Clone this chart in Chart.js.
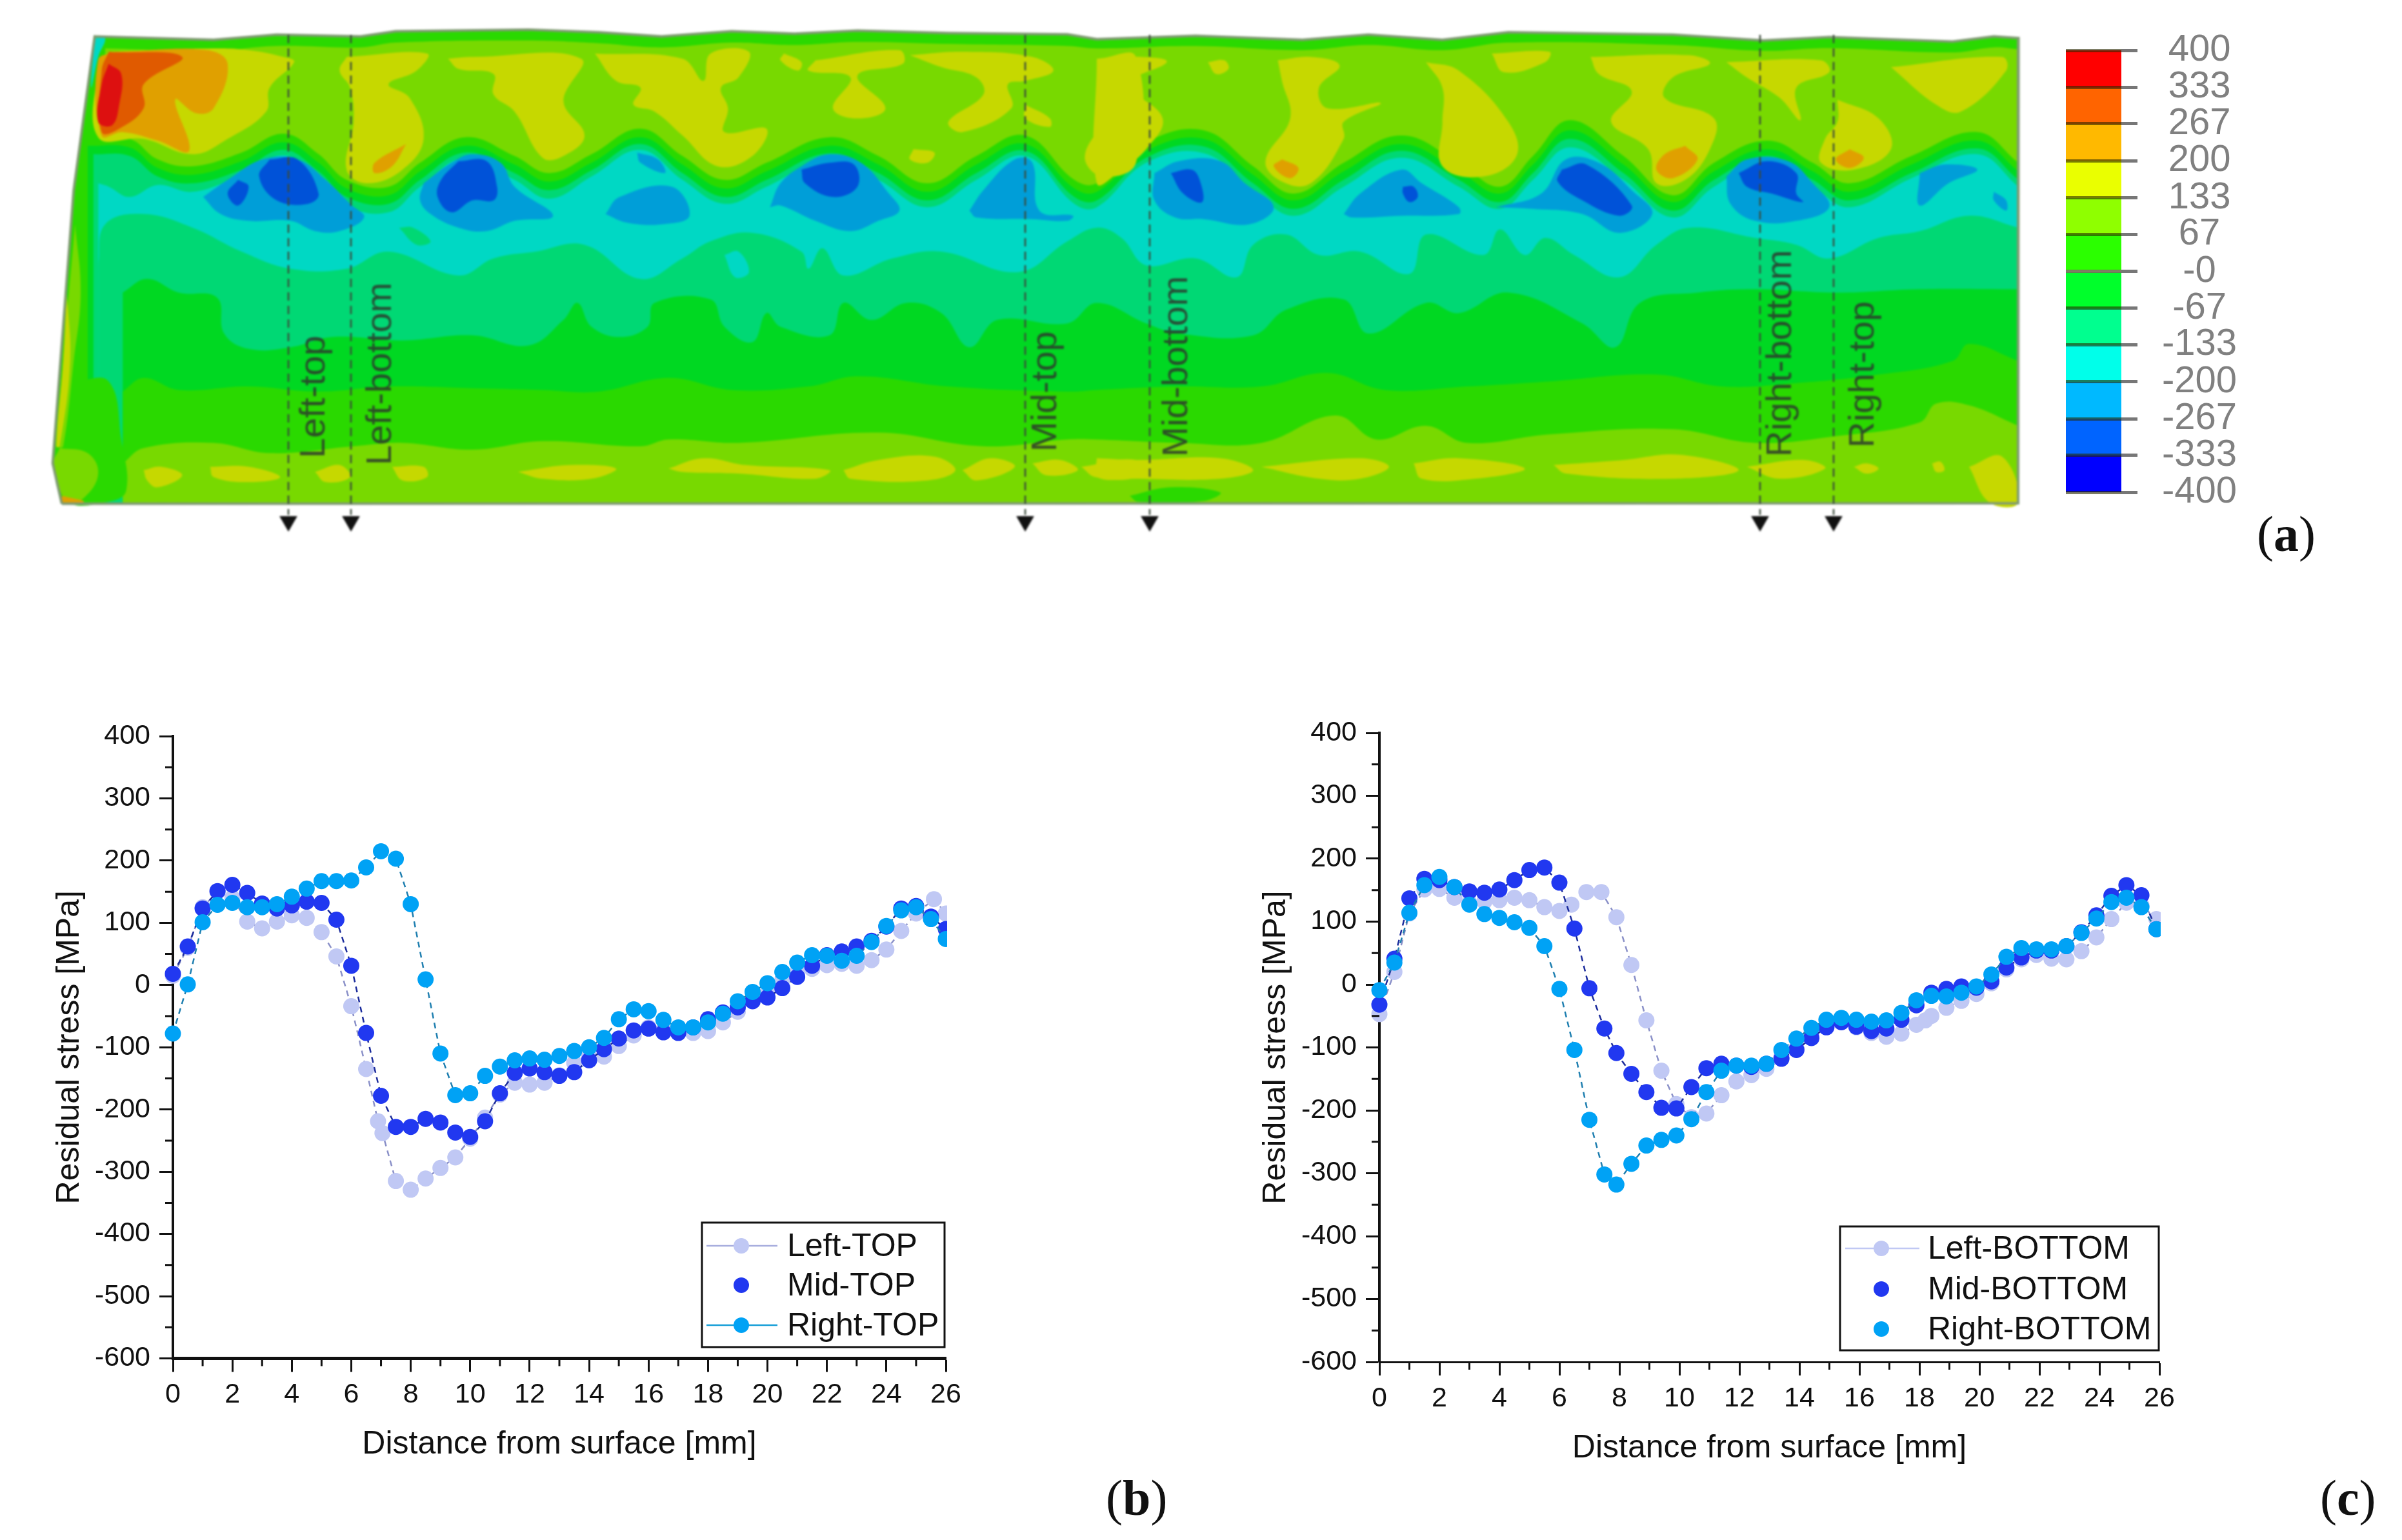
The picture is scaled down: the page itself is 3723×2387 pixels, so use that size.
<!DOCTYPE html>
<html>
<head>
<meta charset="utf-8">
<title>Residual stress</title>
<script src="https://cdn.jsdelivr.net/npm/chart.js@4"></script>
<style>
  html, body { margin: 0; background: #fff; }
  body { position: relative; width: 3723px; height: 2387px; overflow: hidden; }
  canvas { position: absolute; }
  #mapChart { filter: blur(1.5px); }
  .tag { position: absolute; font: 78px "Liberation Serif", serif; color: #111; }
  .tag b { font-weight: bold; }
</style>
</head>
<body>
<canvas id="mapChart" width="3200" height="860" style="left:0;top:0"></canvas>
<canvas id="barChart" width="400" height="860" style="left:3150px;top:0"></canvas>
<canvas id="topChart" width="1600" height="1337" style="left:0;top:1050px"></canvas>
<canvas id="bottomChart" width="1600" height="1337" style="left:1870px;top:1050px"></canvas>
<div class="tag" style="left:3498px;top:783px">(<b>a</b>)</div>
<div class="tag" style="left:1714px;top:2277px">(<b>b</b>)</div>
<div class="tag" style="left:3596px;top:2277px">(<b>c</b>)</div>
<script>
// Line profiles, panels b and c
const xLeftTop = [0,0.5,1,1.5,2,2.5,3,3.5,4,4.5,5,5.5,6,6.5,6.9,7.05,7.5,8,8.5,9,9.5,10,10.5,11,11.5,12,12.5,13,13.5,14,14.5,15,15.5,16,16.5,17,17.5,18,18.5,19,19.5,20,20.5,21,21.5,22,22.5,23,23.5,24,24.5,25,25.6,26];
const yLeftTop = [15,60,125,150,140,102,91,102,112,108,85,46,-34,-135,-219,-238,-315,-329,-311,-294,-277,-247,-213,-176,-157,-160,-157,-145,-125,-115,-115,-98,-81,-68,-72,-74,-77,-74,-60,-43,-24,-13,8,21,26,32,34,31,40,57,87,115,138,115];
const xTop = [0,0.5,1,1.5,2,2.5,3,3.5,4,4.5,5,5.5,6,6.5,7,7.5,8,8.5,9,9.5,10,10.5,11,11.5,12,12.5,13,13.5,14,14.5,15,15.5,16,16.5,17,17.5,18,18.5,19,19.5,20,20.5,21,21.5,22,22.5,23,23.5,24,24.5,25,25.5,26];
const yMidTop = [18,62,123,151,161,148,131,123,128,134,132,105,31,-77,-178,-228,-228,-215,-221,-237,-244,-219,-174,-141,-134,-140,-146,-140,-121,-103,-86,-73,-70,-76,-77,-68,-55,-44,-36,-26,-20,-5,13,31,48,54,62,71,94,123,127,110,90];
const yRightTop = [-78,1,101,129,132,125,125,130,142,155,167,167,168,189,215,203,130,9,-110,-177,-174,-146,-131,-121,-118,-120,-114,-106,-100,-85,-55,-39,-42,-56,-68,-68,-60,-46,-26,-11,3,21,36,48,47,39,47,69,95,120,125,106,74];

const xLeftBottom = [0,0.5,1,1.5,2,2.5,3,3.5,4,4.5,5,5.5,6,6.4,6.9,7.4,7.9,8.4,8.9,9.4,9.9,10.4,10.9,11.4,11.9,12.4,12.9,13.4,13.9,14.4,14.9,15.4,15.9,16.4,16.9,17.4,17.9,18.2,18.4,18.9,19.4,19.9,20.4,20.9,21.4,21.9,22.4,22.9,23.4,23.9,24.4,24.9,25.4,25.9];
const yLeftBottom = [-47,20,113,151,152,138,130,132,134,138,134,123,117,127,147,147,107,31,-57,-137,-190,-211,-205,-176,-154,-144,-134,-115,-102,-77,-67,-60,-68,-77,-83,-78,-64,-57,-50,-37,-26,-15,2,24,40,47,41,40,53,75,104,130,126,104];
const xBottom = [0,0.5,1,1.5,2,2.5,3,3.5,4,4.5,5,5.5,6,6.5,7,7.5,7.9,8.4,8.9,9.4,9.9,10.4,10.9,11.4,11.9,12.4,12.9,13.4,13.9,14.4,14.9,15.4,15.9,16.4,16.9,17.4,17.9,18.4,18.9,19.4,19.9,20.4,20.9,21.4,21.9,22.4,22.9,23.4,23.9,24.4,24.9,25.4,25.9];
const yMidBottom = [-32,41,137,168,166,155,148,146,151,166,182,186,162,89,-6,-70,-109,-142,-171,-196,-197,-163,-133,-126,-129,-131,-126,-118,-104,-85,-68,-60,-67,-74,-70,-56,-33,-13,-7,-3,-5,5,27,43,54,54,61,83,110,141,158,142,88];
const yRightBottom = [-9,35,114,158,171,155,127,112,106,99,90,61,-7,-104,-215,-302,-318,-285,-256,-247,-240,-214,-171,-137,-129,-129,-126,-104,-86,-69,-56,-53,-56,-59,-57,-45,-25,-18,-19,-13,-3,16,44,58,56,56,61,82,105,131,138,123,88];

// Colour scale
const scaleLevels = [400,333,267,200,133,67,0,-67,-133,-200,-267,-333,-400];
const scaleLabels = ["400","333","267","200","133","67","-0","-67","-133","-200","-267","-333","-400"];
const scaleColors = ["#ff0000","#ff6400","#ffb900","#eaff00","#8fff00","#2bff00","#00ff2b","#00ff8f","#00ffea","#00b9ff","#0064ff","#0000ff"];

// Section lines on the map, in plate units
const sectionNames = ["Left-top","Left-bottom","Mid-top","Mid-bottom","Right-bottom","Right-top"];
const sectionX = [351,448,1493,1686,2632,2746];
const sectionLabelX = [392,495,1526,1729,2665,2793];
const sectionLabelY = [654,665,644,652,652,638];

// Stress contours: flat x,y lists, two reading sheets (L and R)
const outlineL = [80,50,250,60,340,45,460,50,510,35,700,30,800,38,890,50,990,35,1080,42,1170,33,1300,40,1470,44];
const outlineR = [0,58,120,48,250,60,330,45,420,60,500,38,700,45,810,62,890,52,1040,65,1090,50,1120,55];
const outlineLeftSide = [33,1418,20,1300,50,500];
const stripL = [95,85,250,92,340,78,460,82,510,68,700,62,800,70,890,82,990,68,1080,75,1170,66,1300,72,1470,78];
const stripR = [0,85,120,78,250,90,330,75,420,90,500,68,700,75,810,92,890,84,1040,97,1090,82,1120,88];

const edge1L = [60,345,130,350,170,410,220,430,290,390,350,335,400,395,440,470,500,490,545,420,610,345,680,400,730,450,790,395,860,320,920,400,980,470,1040,420,1130,345,1200,400,1270,480,1340,400,1410,340,1480,470];
const edge1R = [0,480,60,360,130,325,190,430,240,510,300,420,370,340,440,420,490,490,530,400,575,295,640,400,700,515,750,420,815,355,870,420,915,480,990,400,1070,330,1120,420];
const edge2L = [70,370,130,375,170,435,220,455,290,415,350,360,400,420,440,495,500,515,545,445,610,370,680,425,730,475,790,420,860,345,920,425,980,495,1040,445,1130,370,1200,425,1270,505,1340,425,1410,365,1480,495];
const edge2R = [0,505,60,385,130,350,190,455,240,530,300,445,370,365,440,445,490,510,530,425,575,325,640,425,700,535,750,445,815,380,870,445,915,505,990,425,1070,355,1120,445];
const edge3L = [78,395,130,400,170,460,220,480,290,440,350,382,400,445,440,520,500,540,545,470,610,390,680,450,730,500,790,442,860,365,920,450,980,520,1040,470,1130,392,1200,450,1270,530,1340,450,1410,385,1480,520];
const edge3R = [0,530,60,405,130,372,190,480,240,555,300,470,370,385,440,470,490,535,530,450,575,350,640,450,700,560,750,470,815,400,870,470,915,530,990,450,1070,378,1120,470];
const edge4L = [85,480,100,490,130,520,170,485,220,505,290,455,350,398,400,462,440,545,500,565,545,490,610,405,680,470,730,525,790,460,860,382,920,470,980,540,1040,490,1130,408,1200,470,1270,550,1340,470,1410,400,1480,540];
const edge4R = [0,550,60,420,130,392,190,500,240,575,300,490,370,405,440,490,490,555,530,470,575,375,640,470,700,580,750,490,815,415,870,490,915,550,990,465,1070,395,1120,490];
const tealLowL = [85,720,95,600,150,570,220,610,290,680,360,730,440,730,500,680,600,750,650,700,710,680,780,660,860,760,920,700,960,650,1020,625,1090,680,1100,730,1120,670,1150,750,1220,700,1290,680,1400,740,1470,650];
const tealLowR = [0,610,30,640,60,720,120,700,170,755,190,660,230,630,270,690,320,680,380,745,400,630,470,690,490,615,520,690,545,640,580,690,635,755,680,660,720,610,800,640,850,660,890,700,950,640,1000,620,1060,575,1120,610];
const lower1L = [120,800,155,760,200,800,255,815,265,920,300,965,360,960,420,930,520,940,620,925,700,955,750,880,770,830,790,900,830,930,870,900,880,830,960,820,980,900,1020,945,1040,860,1060,900,1130,925,1150,830,1190,880,1240,830,1290,860,1330,960,1370,880,1470,890];
const lower1R = [0,830,60,890,100,920,190,925,230,850,300,820,330,920,400,830,440,860,500,800,590,890,630,960,660,830,730,800,800,790,900,800,1000,790,1120,790];
const lower2L = [120,1090,150,1050,200,1085,300,1075,400,1090,500,1075,620,1080,720,1085,800,1090,900,1050,990,1085,1100,1075,1170,1045,1300,1075,1470,1090];
const lower2R = [0,1085,100,1075,200,1075,280,1035,350,1085,450,1075,550,1060,680,1040,760,1075,850,1065,950,1040,1040,1000,1060,950,1120,1000];
const lower3L = [120,1300,150,1255,250,1240,330,1270,450,1250,520,1240,620,1260,720,1235,860,1250,900,1230,1000,1240,1200,1210,1350,1250,1470,1230];
const lower3R = [0,1230,100,1240,200,1240,290,1160,340,1230,400,1190,450,1240,550,1215,700,1200,800,1240,900,1220,1000,1180,1020,1125,1060,1130,1120,1190];

const yellowL = [
  [100,95,250,85,300,90,350,110,365,125,330,200,325,270,270,350,220,395,150,350,85,345,85,150],
  [440,110,555,100,540,150,500,190,530,230,550,350,520,440,470,480,440,440,450,300,445,200,430,150],
  [585,115,620,110,775,115,750,240,780,340,750,400,720,405,680,270,650,220,650,160,600,145],
  [795,100,920,115,950,180,960,100,1015,95,1000,170,975,200,985,260,980,330,1040,320,1020,400,970,430,920,340,880,270,850,250,860,200,825,180],
  [1065,100,1090,125,1085,150,1060,120],
  [1110,120,1230,90,1235,130,1170,165,1210,260,1170,290,1135,260,1160,170,1100,150],
  [1245,105,1320,95,1420,110,1450,150,1410,180,1385,190,1390,260,1320,330,1300,300,1350,220,1340,170,1290,140],
  [1250,380,1280,390,1270,420,1245,410],
  [1410,250,1445,290,1445,315,1410,290],
  [1515,115,1568,110,1568,420,1520,460,1495,400,1530,260],
  [150,1320,175,1310,205,1335,170,1370,155,1350],
  [245,1310,300,1310,345,1340,300,1355,250,1340],
  [395,1325,430,1305,445,1340,410,1355],
  [505,1310,550,1310,555,1340,520,1350],
  [685,1325,760,1305,825,1315,790,1345,720,1345],
  [900,1315,950,1285,1010,1305,1130,1320,1110,1345,1000,1330,920,1325],
  [1150,1320,1200,1290,1280,1280,1310,1320,1270,1350,1160,1345],
  [1320,1320,1360,1285,1395,1310,1340,1350],
  [1420,1300,1460,1290,1485,1320,1440,1335],
  [1490,1310,1568,1290,1568,1340,1510,1340]
];
const yellowR = [
  [0,115,55,110,85,125,40,190,80,290,60,380,30,440,0,480],
  [135,125,155,120,160,145,145,160],
  [220,120,260,110,295,135,270,200,280,260,345,245,300,300,300,350,260,480,225,475,205,415,235,290,225,180],
  [480,100,550,95,545,125,495,155],
  [400,125,440,150,500,300,510,400,470,460,420,430,420,300,420,200],
  [600,110,720,105,745,130,700,170,690,230,750,290,745,380,715,470,680,480,670,380,625,300,650,210,610,160],
  [765,125,880,120,890,155,850,200,855,295,830,230,790,170],
  [900,235,950,290,965,380,920,440,880,420,885,350,900,300],
  [965,140,1100,110,1105,150,1050,270,1020,250],
  [0,1285,50,1290,150,1285,190,1320,150,1345,50,1345,0,1340],
  [200,1310,320,1285,355,1310,320,1345,270,1345],
  [385,1300,440,1285,520,1315,460,1345,395,1345],
  [555,1305,640,1290,710,1275,780,1320,700,1345,570,1330],
  [790,1310,860,1290,885,1315,830,1345],
  [920,1310,935,1300,950,1315,935,1330],
  [1015,1300,1025,1295,1030,1320,1020,1325],
  [1060,1310,1100,1280,1120,1415,1085,1415]
];
const orangeL = [
  [110,95,240,90,270,130,250,260,225,275,195,235,215,385,170,355,120,330,90,340,85,120],
  [525,365,505,430,480,450,480,420]
];
const orangeR = [
  [225,410,245,435,235,465,215,430],
  [715,370,730,410,700,465,680,440,690,395],
  [915,380,932,405,915,435,898,410]
];
const redOrangeL = [[100,95,205,110,150,190,150,260,115,320,90,330,90,150]];
const redL = [[100,130,118,160,115,250,105,310,85,300,90,190]];
const midBlueL = [
  [235,520,270,470,320,410,370,410,410,470,445,540,465,580,430,620,395,620,360,590,300,590,260,570],
  [550,480,590,420,620,395,660,420,680,490,735,575,680,590,640,620,600,610,560,570,545,530],
  [855,390,885,410,895,450,860,420],
  [810,570,830,520,905,490,930,575,890,600,840,595],
  [1045,550,1060,480,1090,430,1130,395,1175,420,1215,510,1230,560,1200,590,1160,620,1110,590,1060,545],
  [1330,560,1350,500,1395,410,1420,420,1430,560,1478,575,1470,590,1420,585,1340,580]
];
const midBlueR = [
  [70,450,100,415,150,415,180,480,215,550,185,600,130,585,95,580,70,530],
  [300,570,320,510,370,440,395,480,440,550,440,570,370,575,310,580],
  [485,550,540,510,570,410,610,420,650,500,675,570,635,625,590,570,530,555],
  [765,460,790,410,840,415,870,480,890,550,850,590,800,590,770,540],
  [1000,450,1030,425,1070,440,1035,480,1000,545],
  [1090,505,1105,530,1105,560,1090,530]
];
const darkBlueL = [
  [330,410,370,410,400,510,385,540,340,530,315,460],
  [285,470,300,490,285,545,270,510],
  [600,415,640,415,655,490,650,530,620,530,590,565,570,520,575,470],
  [1090,440,1130,420,1165,425,1170,490,1135,520,1095,480]
];
const darkBlueR = [
  [90,450,115,440,125,470,128,535,105,510],
  [372,490,385,490,390,520,380,535,372,510],
  [565,440,595,425,650,545,635,575,590,530,560,475],
  [780,450,815,415,850,450,850,510,858,535,820,510,790,490]
];
const leftGreenL = [[50,1060,100,1060,118,1230,125,1380,100,1412,40,1412,22,1300,35,1100]];
const leftLightL = [
  [30,1255,70,1270,85,1330,65,1400,40,1412,22,1300],
  [52,600,60,800,50,1000,35,1250,28,1250,35,1000]
];
const leftYellowL = [[40,800,45,1000,30,1250,25,1250,35,1000]];
const cornerOrangeL = [[33,1395,65,1412,35,1416]];
const bottomGreenR = [[40,1395,90,1370,150,1385,130,1410,50,1412]];
const tealSpotsL = [[980,690,1000,680,1015,740,995,755],[80,55,95,55,85,110,75,200]];
const paleSpotsL = [[515,610,535,610,560,650,540,660]];

const mapColors = {
  base: "#2ad900", light: "#78d900", yellow: "#c6d800", orange: "#e0a000", redOrange: "#e05a00", red: "#dd1010",
  green2: "#00d822", green3: "#00d874", teal: "#00d8c4", midBlue: "#009ed8", darkBlue: "#0052d8"
};

const SHEETS = { L: [-36, 1.0846], R: [1604, 1.2755] };

function sheetPoints(flat, sheet) {
  const [x0, sx] = SHEETS[sheet];
  const points = [];
  for (let i = 0; i < flat.length; i += 2) {
    points.push({ x: x0 + flat[i] * sx, y: flat[i + 1] * 0.5294 - 26 });
  }
  return points;
}

function band(flatL, flatR, color) {
  return {
    data: sheetPoints(flatL, "L").concat(sheetPoints(flatR, "R")),
    backgroundColor: color, borderWidth: 0, pointRadius: 0, showLine: true,
    tension: 0.4, fill: { value: 724 }
  };
}

function patches(list, sheet, color) {
  return list.map(flat => {
    const pts = sheetPoints(flat, sheet);
    pts.push(pts[0]);
    return { data: pts, backgroundColor: color, borderWidth: 0, pointRadius: 0, showLine: true, tension: 0.4, fill: "shape" };
  });
}

const plateOutline = sheetPoints(outlineLeftSide, "L").concat(sheetPoints(outlineL, "L"), sheetPoints(outlineR, "R"), [{ x: 3032, y: 724 }]);
plateOutline.push(plateOutline[0]);

// Painted back to front: base, bands, then the patches on top
const painted = [
  { data: plateOutline, backgroundColor: mapColors.base, borderWidth: 0, pointRadius: 0, showLine: true, tension: 0, fill: "shape" },
  band(stripL, stripR, mapColors.light),
  band(edge1L, edge1R, mapColors.base),
  band(edge2L, edge2R, mapColors.green2),
  band(edge3L, edge3R, mapColors.green3),
  band(edge4L, edge4R, mapColors.teal),
  band(tealLowL, tealLowR, mapColors.green3),
  band(lower1L, lower1R, mapColors.green2),
  band(lower2L, lower2R, mapColors.base),
  band(lower3L, lower3R, mapColors.light),
  ...patches(yellowL, "L", mapColors.yellow),
  ...patches(yellowR, "R", mapColors.yellow),
  ...patches(orangeL, "L", mapColors.orange),
  ...patches(orangeR, "R", mapColors.orange),
  ...patches(redOrangeL, "L", mapColors.redOrange),
  ...patches(redL, "L", mapColors.red),
  ...patches(midBlueL, "L", mapColors.midBlue),
  ...patches(midBlueR, "R", mapColors.midBlue),
  ...patches(darkBlueL, "L", mapColors.darkBlue),
  ...patches(darkBlueR, "R", mapColors.darkBlue),
  ...patches(paleSpotsL, "L", mapColors.green3),
  ...patches(tealSpotsL, "L", mapColors.teal),
  ...patches(leftGreenL, "L", mapColors.base),
  ...patches(leftLightL, "L", mapColors.light),
  ...patches(leftYellowL, "L", mapColors.yellow),
  ...patches(cornerOrangeL, "L", mapColors.orange),
  ...patches(bottomGreenR, "R", mapColors.base)
];

// Plate outline on top
painted.push({ data: plateOutline, borderColor: "#7f9a72", borderWidth: 4, pointRadius: 0, showLine: true, tension: 0, fill: false });

sectionX.forEach(x => {
  painted.push({
    data: [{ x: x, y: -2 }, { x: x, y: 742 }],
    borderColor: "#3a4a3a", borderWidth: 2.5, borderDash: [13, 8], pointRadius: 0, showLine: true, fill: false
  });
  painted.push({
    data: [{ x: x, y: 752 }],
    backgroundColor: "#111", borderWidth: 0, pointStyle: "triangle", pointRadius: 16, rotation: 180, showLine: false
  });
});
painted.forEach((d, i) => { d.order = painted.length - i; });

const sectionLabels = {
  id: "sectionLabels",
  afterDraw(chart) {
    const { ctx, scales } = chart;
    ctx.save();
    ctx.font = '56px "Liberation Sans"';
    ctx.fillStyle = "rgba(45,55,45,0.85)";
    ctx.textAlign = "left";
    ctx.textBaseline = "middle";
    sectionNames.forEach((name, i) => {
      ctx.save();
      ctx.translate(scales.x.getPixelForValue(sectionLabelX[i]), scales.y.getPixelForValue(sectionLabelY[i]));
      ctx.rotate(-Math.PI / 2);
      ctx.fillText(name, 0, 0);
      ctx.restore();
    });
    ctx.restore();
  }
};

Chart.defaults.font.family = '"Liberation Sans", Arial, sans-serif';
Chart.defaults.color = "#111";

new Chart(document.getElementById("mapChart"), {
  type: "scatter",
  data: { datasets: painted },
  options: {
    responsive: false, animation: false, devicePixelRatio: 1, events: [],
    layout: { padding: 0, autoPadding: false },
    plugins: { legend: { display: false }, tooltip: { enabled: false } },
    scales: {
      x: { type: "linear", display: false, min: -96, max: 3104 },
      y: { type: "linear", display: false, min: -56, max: 804, reverse: true }
    }
  },
  plugins: [sectionLabels]
});

new Chart(document.getElementById("barChart"), {
  type: "bar",
  data: {
    labels: ["stress"],
    datasets: scaleColors.map((color, i) => ({
      data: [[scaleLevels[i + 1], scaleLevels[i]]],
      backgroundColor: color, barPercentage: 1, categoryPercentage: 1, grouped: false
    }))
  },
  options: {
    responsive: false, animation: false, devicePixelRatio: 1, events: [],
    layout: { padding: { left: 52, top: 78, bottom: 97, right: 0 }, autoPadding: false },
    plugins: { legend: { display: false }, tooltip: { enabled: false } },
    scales: {
      x: { display: false },
      y: {
        position: "right", min: -400, max: 400,
        border: { display: false },
        grid: { color: "rgba(40,40,0,0.6)", lineWidth: 5, z: 1, tickLength: 25, tickColor: "#777" },
        afterBuildTicks: s => { s.ticks = scaleLevels.map(v => ({ value: v })); },
        afterFit: s => { s.width = 262; },
        ticks: {
          autoSkip: false, padding: 38, crossAlign: "center", color: "#808080", font: { size: 58 },
          callback: (v, i) => scaleLabels[i]
        }
      }
    }
  }
});

// Minor ticks and the boxed legend of panels b and c
const profileExtras = {
  id: "profileExtras",
  afterDraw(chart, args, opts) {
    const { ctx, scales, chartArea } = chart;
    ctx.save();
    ctx.strokeStyle = "#111";
    ctx.lineWidth = 3;
    ctx.beginPath();
    for (let v = 1; v < 26; v += 2) {
      const x = scales.x.getPixelForValue(v);
      ctx.moveTo(x, chartArea.bottom);
      ctx.lineTo(x, chartArea.bottom + 12);
    }
    for (let v = -550; v < 400; v += 100) {
      const y = scales.y.getPixelForValue(v);
      ctx.moveTo(chartArea.left, y);
      ctx.lineTo(chartArea.left - 12, y);
    }
    ctx.stroke();

    ctx.lineWidth = 3;
    ctx.fillStyle = "#fff";
    ctx.strokeStyle = "#111";
    ctx.fillRect(opts.left, opts.top, opts.right - opts.left, opts.bottom - opts.top);
    ctx.strokeRect(opts.left, opts.top, opts.right - opts.left, opts.bottom - opts.top);
    ctx.font = '50px "Liberation Sans"';
    ctx.textBaseline = "middle";
    ctx.textAlign = "left";
    chart.data.datasets.forEach((d, i) => {
      const y = opts.rows[i];
      if (opts.lines[i]) {
        ctx.strokeStyle = d.legendLine;
        ctx.lineWidth = 2.5;
        ctx.beginPath();
        ctx.moveTo(opts.lineFrom, y);
        ctx.lineTo(opts.lineTo, y);
        ctx.stroke();
      }
      ctx.fillStyle = d.pointBackgroundColor;
      ctx.beginPath();
      ctx.arc(opts.marker, y, 12, 0, Math.PI * 2);
      ctx.fill();
      ctx.fillStyle = "#111";
      ctx.fillText(d.label, opts.text, y + 2);
    });
    ctx.restore();
  }
};

function profileSet(label, xs, ys, color, lineColor, legendLine, order) {
  return {
    label: label,
    data: xs.map((x, i) => ({ x: x, y: ys[i] })),
    showLine: true, fill: false, order: order,
    borderColor: lineColor, borderWidth: 2.5, borderDash: [9, 7],
    pointBackgroundColor: color, pointBorderWidth: 0, pointRadius: 12.5,
    legendLine: legendLine,
    clip: { left: 16, top: 0, right: 2, bottom: 0 }
  };
}

function profileChart(id, datasets, area, xBorder, legend) {
  return new Chart(document.getElementById(id), {
    type: "scatter",
    data: { datasets: datasets },
    options: {
      responsive: false, animation: false, devicePixelRatio: 1, events: [],
      layout: { autoPadding: false, padding: area },
      plugins: { legend: { display: false }, tooltip: { enabled: false }, profileExtras: legend },
      scales: {
        x: {
          type: "linear", min: 0, max: 26,
          border: { color: "#111", width: xBorder },
          grid: { drawOnChartArea: false, tickLength: 21, tickWidth: 3, tickColor: "#111" },
          ticks: { stepSize: 2, maxRotation: 0, autoSkip: false, padding: 10, font: { size: 43 } },
          afterFit: s => { s.height = 200; },
          title: { display: true, text: "Distance from surface [mm]", font: { size: 50 }, padding: { top: 0, bottom: 36 } }
        },
        y: {
          type: "linear", min: -600, max: 400,
          border: { color: "#111", width: 4 },
          grid: { drawOnChartArea: false, tickLength: 21, tickWidth: 3, tickColor: "#111" },
          ticks: { stepSize: 100, autoSkip: false, padding: 14, font: { size: 43 } },
          afterFit: s => { s.width = 268; },
          title: { display: true, text: "Residual stress [MPa]", font: { size: 50 }, padding: { top: 78, bottom: 0 } }
        }
      }
    },
    plugins: [profileExtras]
  });
}

profileChart("topChart", [
  profileSet("Left-TOP", xLeftTop, yLeftTop, "#c0c8f4", "#8a90c8", "#a8aede", 3),
  profileSet("Mid-TOP", xTop, yMidTop, "#2138f0", "#1c2c9c", "#2138f0", 2),
  profileSet("Right-TOP", xTop, yRightTop, "#00a2f5", "#1f7fb0", "#1ba0d8", 1)
], { left: 0, right: 134, top: 91, bottom: 81.5 }, 5, {
  left: 1088, right: 1464, top: 845, bottom: 1038, rows: [881, 942, 1004],
  marker: 1149, text: 1220, lineFrom: 1095, lineTo: 1205, lines: [true, false, true]
});

profileChart("bottomChart", [
  profileSet("Left-BOTTOM", xLeftBottom, yLeftBottom, "#c0c8f4", "#8a90c8", "#c0c8f4", 3),
  profileSet("Mid-BOTTOM", xBottom, yMidBottom, "#2138f0", "#1c2c9c", "#2138f0", 2),
  profileSet("Right-BOTTOM", xBottom, yRightBottom, "#00a2f5", "#1f7fb0", "#00a2f5", 1)
], { left: 0, right: 123, top: 86, bottom: 76 }, 3, {
  left: 982, right: 1476, top: 851, bottom: 1043, rows: [885, 948, 1010],
  marker: 1046, text: 1118, lineFrom: 990, lineTo: 1105, lines: [true, false, false]
});
</script>
</body>
</html>
